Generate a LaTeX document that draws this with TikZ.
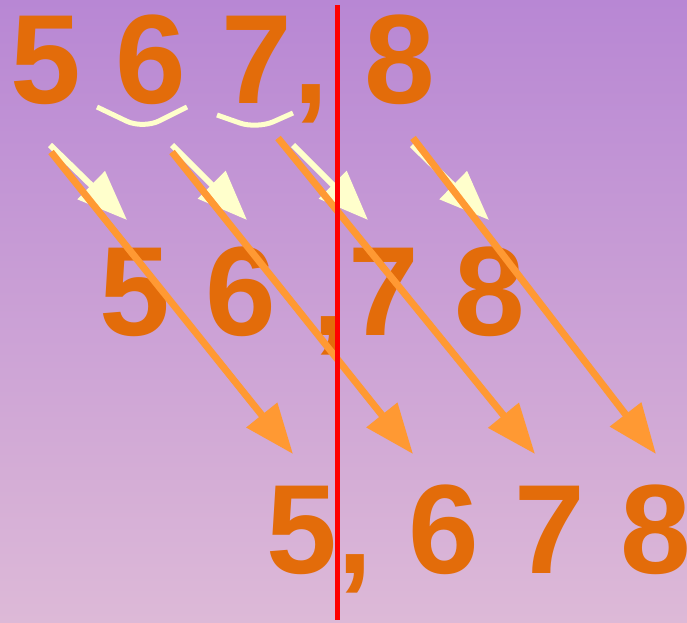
\documentclass[tikz,border=0pt]{standalone}
\usepackage{fontspec}
\setmainfont{Liberation Sans}
\usepackage{xcolor}
\usetikzlibrary{arrows.meta}

\definecolor{bgtop}{HTML}{B887D4}
\definecolor{bgbot}{HTML}{DDB9D7}
\definecolor{digitorange}{HTML}{E36C0A}
\definecolor{arroworange}{HTML}{FF9933}
\definecolor{hintyellow}{HTML}{FFFFCC}

\begin{document}
\begin{tikzpicture}[x=1pt,y=-1pt,
    digit/.style={anchor=base,inner sep=0pt,text=digitorange,
        font=\bfseries\fontsize{127}{127}\selectfont},
    hint/.style={hintyellow,line width=6pt,-{Triangle[length=50pt,width=38pt]}},
    move/.style={arroworange,line width=7pt,-{Triangle[length=50pt,width=38pt]}},
    brace/.style={hintyellow,line width=5pt,rounded corners=18pt}]
    % Background
    \useasboundingbox (0,0) rectangle (687,622);
    \shade[top color=bgtop,bottom color=bgbot] (0,0) rectangle (687,622);

    % Digits: top, middle and bottom row
    \foreach \n/\x/\y/\d in {t5/46/103/5, t6/151/103/6, t7/257/103/7, t8/400/103/8,
                             m5/135/335/5, m6/241/335/6, m7/384/335/7, m8/490/335/8,
                             b5/302/573/5, b6/444/573/6, b7/550/573/7, b8/656/573/8} {
        \node[digit] (\n) at (\x,\y) {\d};
    }
    \node[digit] (tcomma) at (311,103) {,};
    \node[digit] (mcomma) at (330,335) {,};
    \node[digit] (bcomma) at (355,573) {,};

    % Grouping marks under the top row
    \draw[brace] (97,107) -- (143,129) -- (187,107);
    \draw[brace] (217,115) -- (257,129) -- (293,113);

    % Short arrows: one place to the right
    \foreach \i/\a/\b in {1/50/127, 2/172/247, 3/293/368, 4/412/489} {
        \coordinate (ys\i) at (\a,145);
        \coordinate (ye\i) at (\b,220);
        \draw[hint] (ys\i) -- (ye\i);
    }

    % Long arrows: two places to the right
    \foreach \i/\a/\y/\b in {1/51/152/293, 2/172/152/413, 3/278/138/535, 4/413/138/656} {
        \coordinate (os\i) at (\a,\y);
        \coordinate (oe\i) at (\b,454);
        \draw[move] (os\i) -- (oe\i);
    }

    % Decimal separator line
    \coordinate (rtop) at (337,5);
    \coordinate (rbot) at (337,620);
    \draw[red,line width=5pt] (rtop) -- (rbot);
\end{tikzpicture}
\end{document}
